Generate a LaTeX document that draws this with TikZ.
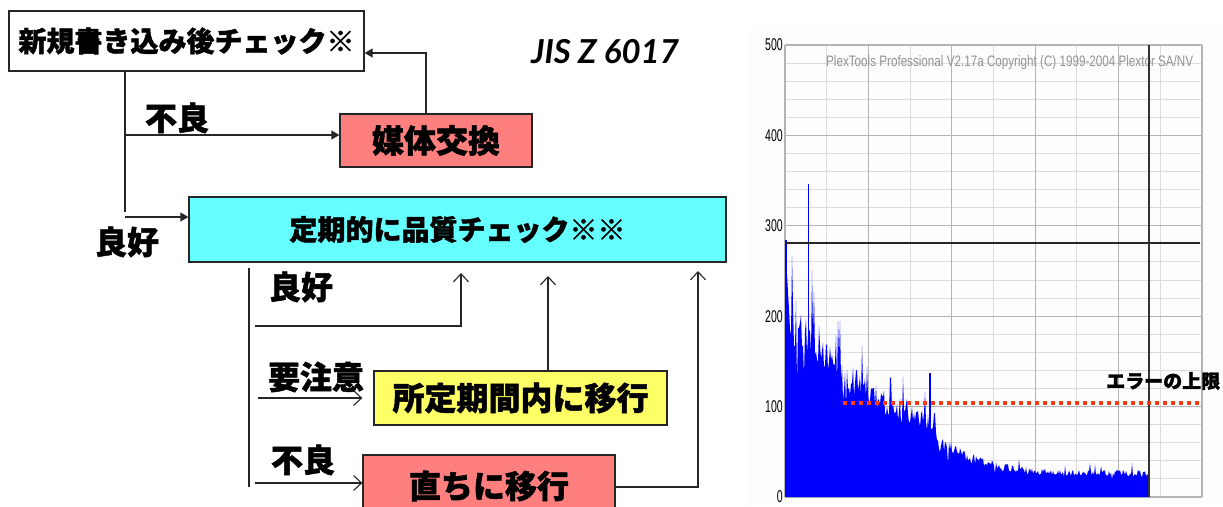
\documentclass[tikz,border=0pt]{standalone}
\usepackage{fontspec}
\usetikzlibrary{arrows.meta}
\newfontfamily\jp{Noto Sans CJK JP}[BoldFeatures={FakeBold=1.5}]
\newfontfamily\jisf{Lato}
\newfontfamily\libf{Liberation Sans}
\definecolor{boxpink}{HTML}{FF7F7F}
\definecolor{boxcyan}{HTML}{66FFFF}
\definecolor{boxyellow}{HTML}{FFFF66}
\definecolor{hblue}{HTML}{0000FF}
\definecolor{gridlight}{HTML}{DCDCDC}
\definecolor{griddark}{HTML}{B4B4B4}
\definecolor{limitred}{HTML}{FF3A10}
\definecolor{linegray}{HTML}{262626}
\begin{document}
\begin{tikzpicture}[x=1pt,y=-1pt,
  box/.style={draw=linegray, line width=1.3pt, rectangle, inner sep=0pt, font=\jp\bfseries\fontsize{28}{30}\selectfont},
  bigbox/.style={box, font=\jp\bfseries\fontsize{32}{34}\selectfont},
  lbl/.style={font=\jp\bfseries\fontsize{32}{34}\selectfont, inner sep=0pt},
  conn/.style={draw=linegray, line width=1.1pt},
  farrow/.style={conn, -{Triangle[length=8pt,width=9pt]}},
  oarrow/.style={conn, -{Straight Barb[length=8pt,width=15pt]}},
  axlbl/.style={font=\libf\fontsize{17}{17}\selectfont, anchor=east, inner sep=0pt},
  declare function={hb(\x)= (\x<5) ? (250-10*\x) : ((\x<25) ? (200-0.5*(\x-5)) : ((\x<55) ? (190-1.5*(\x-25)) : ((\x<95) ? (145-0.85*(\x-55)) : ((\x<145) ? (111-0.5*(\x-95)) : ((\x<153) ? (86-2.75*(\x-145)) : ((\x<185) ? (64-0.6*(\x-153)) : ((\x<215) ? (45-0.33*(\x-185)) : ((\x<260) ? (35-0.15*(\x-215)) : 28))))))));}
]
\useasboundingbox (0,0) rectangle (1223,506);
\clip (0,0) rectangle (1223,506);

% ---------------- flowchart ----------------
\node[box, fill=white, minimum width=355pt, minimum height=60pt] (b1) at (186.5,41) {新規書き込み後チェック※};
\node[bigbox, fill=boxpink, minimum width=192pt, minimum height=53pt] (b2) at (436,140.5) {媒体交換};
\node[box, fill=boxcyan, minimum width=537pt, minimum height=65pt] (b3) at (457.5,229.5) {定期的に品質チェック※※};
\node[bigbox, fill=boxyellow, minimum width=293pt, minimum height=54pt] (b4) at (520.5,398) {所定期間内に移行};
\node[bigbox, fill=boxpink, minimum width=252pt, minimum height=62pt] (b5) at (489,486) {直ちに移行};

\node[font=\jisf\bfseries\itshape\fontsize{33}{33}\selectfont, inner sep=0pt] (jis) at (605,52) {JIS Z 6017};

\node[lbl] (l1) at (177,118) {不良};
\node[lbl] (l2) at (127,242) {良好};
\node[lbl] (l3) at (301,287) {良好};
\node[lbl] (l4) at (316,377) {要注意};
\node[lbl] (l5) at (303,460) {不良};

\coordinate (r1) at (426,53);
\coordinate (t1) at (125,73);
\coordinate (t2) at (125,212);
\coordinate (j1) at (125,135);
\coordinate (j2) at (125,217);
\coordinate (v1) at (249,268);
\coordinate (v2) at (249,487);
\coordinate (g1) at (255,326);
\coordinate (g2) at (461,273);
\coordinate (c1) at (258,398);
\coordinate (y1) at (548,276);
\coordinate (n1) at (255,483);
\coordinate (p1) at (698,271);
\coordinate (p0) at (615,487);

\draw[farrow] (b2.north -| r1) |- (b1.east |- r1);
\draw[conn] (b1.south -| t1) -- (t2);
\draw[farrow] (j1) -- (b2.west |- j1);
\draw[farrow] (j2) -- (b3.west |- j2);
\draw[conn] (v1) -- (v2);
\draw[oarrow] (g1) -| (g2);
\draw[oarrow, shorten >=11pt] (c1) -- (b4.west |- c1);
\draw[oarrow] (b4.north -| y1) -- (y1);
\draw[oarrow] (n1) -- (b5.west |- n1);
\draw[oarrow] (b5.east |- p0) -| (p1);

% ---------------- chart ----------------
\fill[gray!1.5] (748,28) rectangle (1223,506);
\foreach \v in {20,40,...,480} \draw[gridlight, line width=1pt] (785,{497-0.904*\v}) -- (1202,{497-0.904*\v});
\foreach \i in {1,3,5,7,9} \draw[gridlight, line width=1pt] ({785+41.7*\i},45) -- ({785+41.7*\i},497);
\foreach \v in {0,100,...,500} \draw[griddark, line width=1.2pt] (785,{497-0.904*\v}) -- (1202,{497-0.904*\v});
\foreach \i in {0,2,4,6,8,10} \draw[griddark, line width=1.2pt] ({785+41.7*\i},45) -- ({785+41.7*\i},497);

\node[anchor=west, inner sep=0pt, text=gray!85] (cp) at (826,63) {\resizebox{367pt}{11pt}{\libf PlexTools Professional V2.17a Copyright (C) 1999-2004 Plextor SA/NV}};

\pgfmathsetseed{12345}
\fill[hblue] (785,497) \foreach \t [evaluate=\t as \hv using hb(\t)*(0.82+0.26*rnd)+(rnd>0.93)*hb(\t)*0.28-(rnd>0.95)*hb(\t)*0.22] in {0,...,363} { -- ({785+\t},{497-0.904*\hv}) } -- (1149,497) -- cycle;
\draw[hblue, line width=1pt] (808,497) -- (808,184);
\draw[hblue, line width=2.5pt] (786,497) -- (786,240);
\draw[hblue, line width=1.2pt] (930,497) -- (930,373);

\draw[black!85, line width=1.3pt] (785,243) -- (1200,243);
\draw[black!80, line width=1.2pt] (1149,45) -- (1149,497);

\draw[limitred, line width=4pt, dash pattern=on 4pt off 4pt] (843,403) -- (1202,403);

\node[axlbl] (a5) at (783,45) {\scalebox{0.62}[1]{500}};
\node[axlbl] (a4) at (783,136) {\scalebox{0.62}[1]{400}};
\node[axlbl] (a3) at (783,226) {\scalebox{0.62}[1]{300}};
\node[axlbl] (a2) at (783,317) {\scalebox{0.62}[1]{200}};
\node[axlbl] (a1) at (783,407) {\scalebox{0.62}[1]{100}};
\node[axlbl] (a0) at (783,497) {\scalebox{0.62}[1]{0}};

\node[font=\jp\bfseries\fontsize{19}{19}\selectfont, anchor=west, inner sep=0pt] (lim) at (1106,381) {エラーの上限};
\end{tikzpicture}
\end{document}
